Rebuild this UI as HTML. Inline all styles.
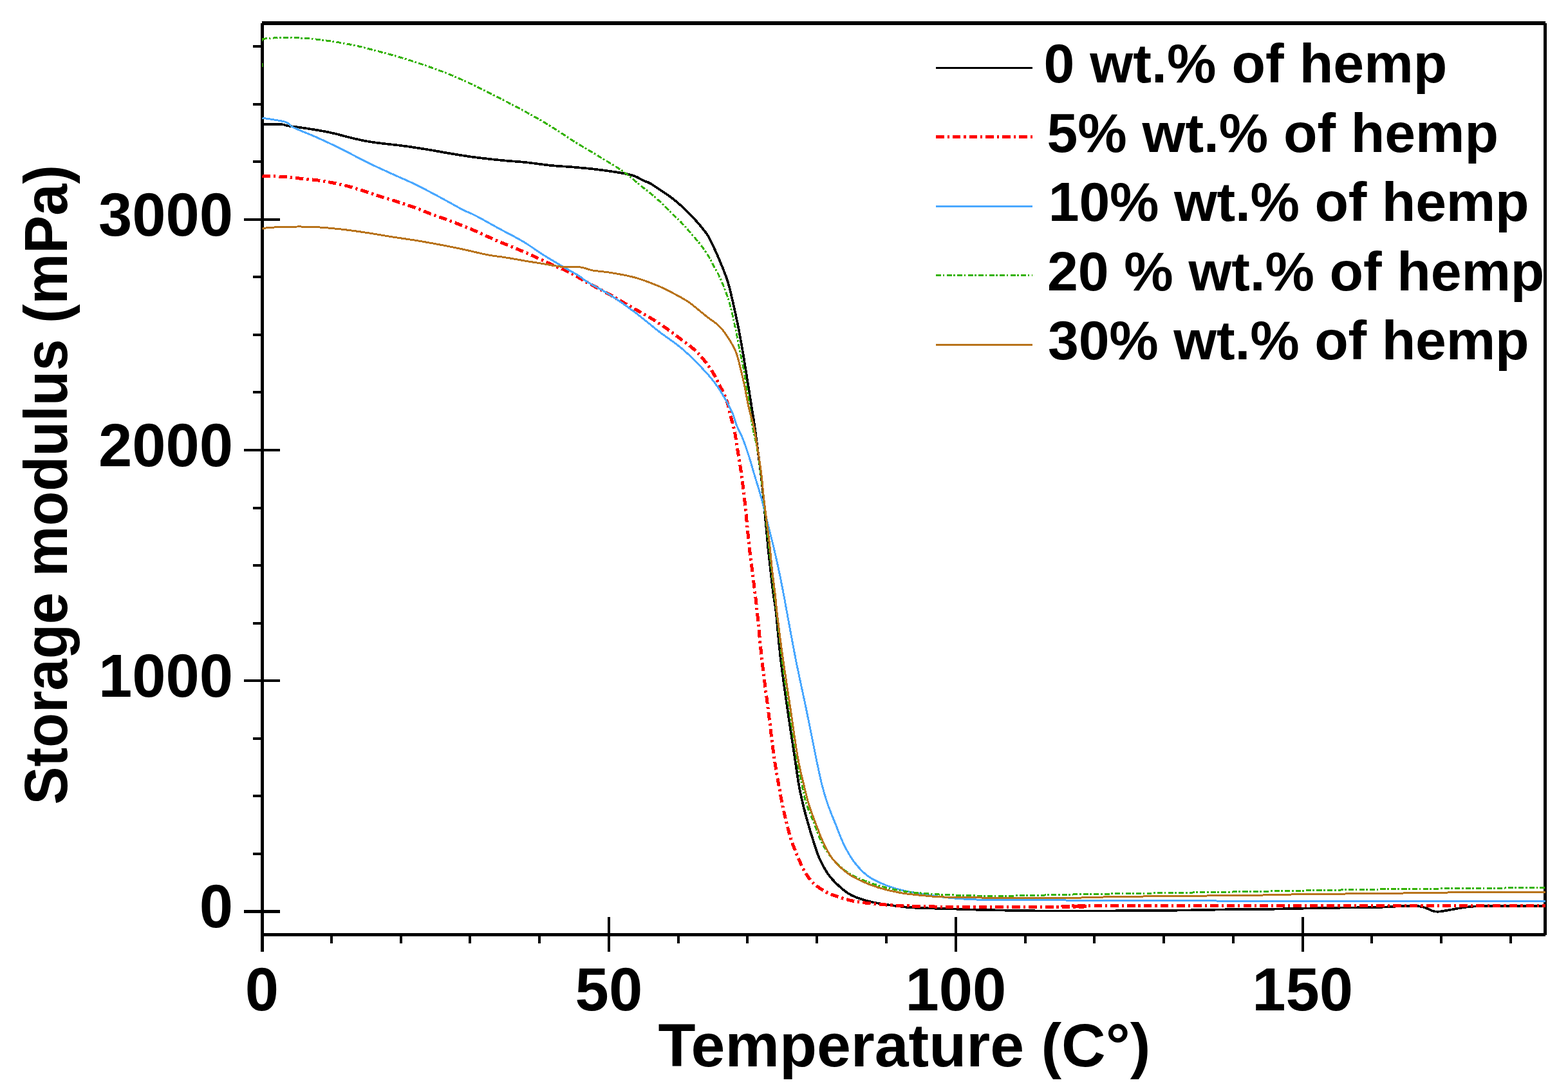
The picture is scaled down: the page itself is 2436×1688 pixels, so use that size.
<!DOCTYPE html><html><head><meta charset="utf-8"><title>Storage modulus vs Temperature</title>
<style>html,body{margin:0;padding:0;background:#fff;}svg{display:block;}text{font-family:"Liberation Sans",Arial,sans-serif;font-weight:bold;fill:#000;}</style></head><body>
<svg width="2436" height="1688" viewBox="0 0 2436 1688">
<rect width="2436" height="1688" fill="#fff"/>
<g fill="#000" shape-rendering="crispEdges">
<rect x="407" y="33" width="1994" height="6"/>
<rect x="405" y="36" width="5" height="1418"/>
<rect x="2398" y="36" width="5" height="1416"/>
<rect x="407" y="1449" width="1994" height="5"/>
<rect x="405" y="1424" width="5" height="54"/>
<rect x="513" y="1449" width="4" height="16"/>
<rect x="621" y="1449" width="4" height="16"/>
<rect x="728" y="1449" width="4" height="16"/>
<rect x="836" y="1449" width="4" height="16"/>
<rect x="944" y="1424" width="4" height="54"/>
<rect x="1052" y="1449" width="4" height="16"/>
<rect x="1159" y="1449" width="4" height="16"/>
<rect x="1267" y="1449" width="4" height="16"/>
<rect x="1375" y="1449" width="4" height="16"/>
<rect x="1483" y="1424" width="4" height="54"/>
<rect x="1591" y="1449" width="4" height="16"/>
<rect x="1698" y="1449" width="4" height="16"/>
<rect x="1806" y="1449" width="4" height="16"/>
<rect x="1914" y="1449" width="4" height="16"/>
<rect x="2022" y="1424" width="4" height="54"/>
<rect x="2129" y="1449" width="4" height="16"/>
<rect x="2237" y="1449" width="4" height="16"/>
<rect x="2345" y="1449" width="4" height="16"/>
<rect x="379" y="1413.00" width="56" height="4.6"/>
<rect x="393" y="1324" width="14" height="4"/>
<rect x="393" y="1234" width="14" height="4"/>
<rect x="393" y="1145" width="14" height="4"/>
<rect x="379" y="1054.85" width="56" height="4.6"/>
<rect x="393" y="966" width="14" height="4"/>
<rect x="393" y="876" width="14" height="4"/>
<rect x="393" y="787" width="14" height="4"/>
<rect x="379" y="696.70" width="56" height="4.6"/>
<rect x="393" y="607" width="14" height="4"/>
<rect x="393" y="518" width="14" height="4"/>
<rect x="393" y="428" width="14" height="4"/>
<rect x="379" y="338.55" width="56" height="4.6"/>
<rect x="393" y="249" width="14" height="4"/>
<rect x="393" y="160" width="14" height="4"/>
<rect x="393" y="70" width="14" height="4"/>
</g>
<defs><clipPath id="pa"><rect x="407" y="36" width="1995.5" height="1416"/></clipPath></defs>
<g clip-path="url(#pa)" fill="none" stroke-linejoin="round" shape-rendering="crispEdges">
<path d="M407.5,193.2 C412.5,193.2 431.0,192.8 437.6,193.2 C444.2,193.6 440.8,194.4 447.0,195.4 C453.2,196.4 464.0,197.5 475.0,199.2 C486.0,200.9 500.2,203.1 512.8,205.8 C525.4,208.5 539.4,212.7 550.4,215.2 C561.4,217.7 566.1,218.9 578.6,220.8 C591.1,222.7 611.5,224.5 625.6,226.4 C639.7,228.3 650.5,230.0 663.0,232.0 C675.5,234.0 688.2,236.5 700.8,238.6 C713.3,240.7 725.1,242.6 738.3,244.3 C751.5,246.0 766.8,247.7 780.0,249.0 C793.2,250.3 805.1,250.9 817.6,252.2 C830.1,253.5 842.7,255.6 855.2,256.9 C867.7,258.1 880.3,258.6 892.8,259.7 C905.3,260.8 917.9,261.9 930.4,263.5 C942.9,265.1 958.6,267.4 968.0,269.1 C977.4,270.8 981.5,271.9 986.8,273.8 C992.1,275.7 996.2,278.9 1000.0,280.7 C1003.8,282.5 1004.7,281.7 1009.4,284.4 C1014.1,287.1 1022.6,292.9 1028.2,296.7 C1033.8,300.5 1037.7,302.8 1043.2,307.0 C1048.7,311.2 1056.1,317.5 1061.1,322.0 C1066.1,326.5 1069.4,330.1 1073.3,334.2 C1077.2,338.3 1080.4,341.5 1084.6,346.5 C1088.8,351.5 1094.8,358.4 1098.7,364.3 C1102.6,370.2 1104.5,374.6 1108.1,382.2 C1111.7,389.8 1116.4,400.3 1120.3,410.0 C1124.2,419.7 1128.1,428.6 1131.5,440.2 C1134.9,451.8 1138.1,467.1 1140.9,479.6 C1143.7,492.1 1145.9,502.1 1148.4,515.3 C1150.9,528.5 1153.5,543.5 1156.0,558.6 C1158.5,573.7 1161.0,589.9 1163.5,605.6 C1166.0,621.3 1168.7,637.3 1171.0,652.6 C1173.3,667.9 1175.3,683.9 1177.1,697.6 C1178.9,711.3 1180.5,722.6 1182.0,735.0 C1183.5,747.4 1184.8,759.5 1186.0,772.0 C1187.2,784.5 1188.3,797.3 1189.5,810.0 C1190.7,822.7 1191.8,835.5 1193.0,848.0 C1194.2,860.5 1195.6,872.5 1197.0,885.0 C1198.4,897.5 1200.1,912.2 1201.5,923.0 C1202.9,933.8 1203.6,933.0 1205.5,950.0 C1207.4,967.0 1210.0,1000.1 1213.0,1025.2 C1216.0,1050.3 1219.7,1075.3 1223.3,1100.4 C1226.9,1125.5 1231.6,1155.7 1234.6,1175.6 C1237.6,1195.5 1239.1,1207.8 1241.3,1220.0 C1243.5,1232.2 1245.3,1239.6 1247.5,1249.0 C1249.7,1258.4 1252.1,1267.1 1254.7,1276.4 C1257.3,1285.7 1260.2,1295.2 1263.2,1304.6 C1266.2,1314.0 1269.0,1323.9 1273.0,1332.8 C1277.0,1341.7 1281.9,1350.9 1287.1,1358.2 C1292.3,1365.5 1298.4,1371.3 1304.1,1376.5 C1309.8,1381.7 1314.7,1385.7 1321.0,1389.2 C1327.3,1392.7 1335.0,1395.4 1342.1,1397.6 C1349.1,1399.8 1355.1,1401.1 1363.3,1402.6 C1371.5,1404.1 1382.1,1405.6 1391.5,1406.8 C1400.9,1408.0 1405.8,1408.8 1419.7,1409.6 C1433.6,1410.3 1456.2,1410.7 1475.0,1411.3 C1493.8,1411.9 1504.8,1412.5 1532.5,1413.1 C1560.2,1413.6 1593.8,1414.5 1641.0,1414.6 C1688.2,1414.7 1769.5,1414.2 1816.0,1413.8 C1862.5,1413.4 1893.0,1412.4 1920.0,1412.1 C1947.0,1411.8 1955.5,1412.0 1978.0,1411.7 C2000.5,1411.4 2028.3,1410.5 2055.0,1410.0 C2081.7,1409.5 2113.7,1409.5 2138.0,1409.0 C2162.3,1408.5 2186.0,1405.9 2201.0,1406.9 C2216.0,1407.9 2221.0,1413.9 2228.0,1415.2 C2235.0,1416.5 2233.7,1415.8 2243.0,1414.6 C2252.3,1413.4 2268.5,1409.3 2284.0,1408.0 C2299.5,1406.7 2316.5,1407.1 2336.0,1406.9 C2355.5,1406.7 2390.2,1406.7 2401.0,1406.7" stroke="#000" stroke-width="3.7"/>
<path d="M407.5,273.5 C412.5,273.6 428.5,273.9 437.6,274.4 C446.7,274.9 452.6,275.8 462.0,276.7 C471.4,277.6 484.6,278.8 494.0,280.0 C503.4,281.2 510.2,282.6 518.4,284.2 C526.5,285.8 534.4,287.5 542.9,289.8 C551.4,292.1 560.8,295.2 569.2,297.9 C577.7,300.6 585.5,303.4 593.6,306.0 C601.7,308.6 609.5,310.8 618.0,313.5 C626.5,316.2 635.6,319.2 644.4,322.4 C653.2,325.6 661.9,329.4 670.7,332.7 C679.5,336.0 688.2,338.8 697.0,342.1 C705.8,345.4 714.8,348.9 723.3,352.4 C731.8,355.8 739.6,359.2 747.7,362.8 C755.9,366.4 763.7,370.4 772.2,374.0 C780.7,377.6 789.7,380.9 798.8,384.7 C807.9,388.5 817.6,392.7 827.0,396.9 C836.4,401.1 845.8,405.8 855.2,410.0 C864.6,414.2 874.0,417.6 883.4,422.3 C892.8,427.0 900.6,432.3 911.6,438.3 C922.6,444.3 937.8,452.1 949.2,458.5 C960.6,464.9 970.6,471.0 980.0,476.4 C989.4,481.8 996.8,485.4 1005.6,490.7 C1014.4,496.0 1024.1,502.1 1032.6,508.0 C1041.1,513.9 1048.4,519.6 1056.7,526.0 C1065.0,532.4 1074.5,538.6 1082.3,546.3 C1090.1,553.9 1097.4,563.4 1103.3,571.9 C1109.2,580.4 1113.3,589.2 1117.5,597.3 C1121.7,605.4 1125.5,612.2 1128.5,620.5 C1131.5,628.8 1133.2,638.8 1135.3,647.0 C1137.4,655.2 1139.5,661.3 1141.2,669.6 C1142.9,677.9 1143.8,685.9 1145.6,696.8 C1147.3,707.7 1149.9,722.5 1151.7,735.2 C1153.5,747.9 1155.0,760.3 1156.4,772.8 C1157.8,785.3 1159.0,797.9 1160.2,810.4 C1161.5,822.9 1162.5,835.5 1163.9,848.0 C1165.3,860.5 1167.0,873.1 1168.6,885.6 C1170.2,898.1 1172.0,912.5 1173.3,923.2 C1174.6,933.9 1174.5,933.0 1176.3,950.0 C1178.0,967.0 1181.0,1000.1 1183.8,1025.2 C1186.6,1050.3 1190.1,1075.3 1193.2,1100.4 C1196.3,1125.5 1199.6,1154.7 1202.6,1175.6 C1205.6,1196.5 1208.7,1212.3 1211.0,1225.6 C1213.3,1238.9 1214.8,1246.3 1216.7,1255.2 C1218.6,1264.1 1220.2,1271.0 1222.3,1279.2 C1224.4,1287.4 1226.5,1296.1 1229.3,1304.6 C1232.1,1313.1 1235.7,1321.8 1239.2,1330.0 C1242.7,1338.2 1246.3,1346.9 1250.5,1353.9 C1254.7,1361.0 1258.7,1366.9 1264.6,1372.3 C1270.5,1377.7 1278.7,1382.8 1285.7,1386.4 C1292.8,1390.0 1299.9,1391.9 1306.9,1394.1 C1314.0,1396.3 1319.8,1398.3 1328.0,1399.8 C1336.2,1401.3 1345.6,1402.2 1356.2,1403.3 C1366.8,1404.3 1378.6,1405.4 1391.5,1406.1 C1404.4,1406.8 1419.0,1407.2 1433.8,1407.5 C1448.5,1407.8 1438.3,1408.1 1480.0,1408.2 C1521.7,1408.3 1647.3,1408.2 1684.0,1408.0 C1720.7,1407.8 1580.5,1407.1 1700.0,1406.9 C1819.5,1406.7 2284.2,1406.7 2401.0,1406.7" stroke="#ff0000" stroke-width="5" stroke-dasharray="12.5 5 3.3 5"/>
<path d="M407.5,183.2 C413.4,184.2 435.1,186.9 443.2,189.4 C451.3,191.9 447.9,194.1 456.4,198.2 C464.9,202.3 481.5,208.6 494.0,214.2 C506.5,219.8 519.1,225.8 531.6,232.0 C544.1,238.2 556.7,245.3 569.2,251.5 C581.7,257.7 594.3,263.2 606.8,269.0 C619.3,274.8 631.9,279.9 644.4,286.0 C656.9,292.1 669.5,298.8 682.0,305.5 C694.5,312.2 710.1,321.1 719.5,326.0 C728.9,330.9 728.9,329.7 738.3,334.6 C747.7,339.5 765.7,349.7 776.0,355.3 C786.3,360.9 793.1,364.2 800.0,368.0 C806.9,371.8 810.0,373.3 817.6,378.1 C825.2,382.9 836.4,390.9 845.8,396.9 C855.2,402.8 864.9,408.5 874.0,413.8 C883.1,419.1 894.0,425.0 900.3,428.9 C906.6,432.8 903.5,432.3 911.6,437.3 C919.8,442.3 936.7,450.9 949.2,458.9 C961.7,466.9 974.3,475.9 986.8,485.3 C999.3,494.7 1011.9,505.6 1024.4,515.3 C1036.9,525.0 1049.5,532.5 1062.0,543.5 C1074.5,554.5 1090.1,570.8 1099.5,581.1 C1108.9,591.5 1112.0,595.9 1118.3,605.6 C1124.6,615.3 1132.8,630.3 1137.1,639.4 C1141.4,648.5 1141.3,652.8 1144.2,660.0 C1147.1,667.2 1151.1,673.8 1154.5,682.6 C1157.9,691.4 1162.0,703.8 1164.8,712.6 C1167.6,721.4 1168.4,725.2 1171.4,735.2 C1174.4,745.2 1179.2,760.3 1182.7,772.8 C1186.2,785.3 1189.0,797.9 1192.1,810.4 C1195.2,822.9 1198.5,835.5 1201.5,848.0 C1204.5,860.5 1207.3,873.1 1210.0,885.6 C1212.7,898.1 1215.4,912.5 1217.5,923.2 C1219.6,933.9 1219.2,933.0 1222.4,950.0 C1225.6,967.0 1231.5,1000.1 1236.5,1025.2 C1241.5,1050.3 1247.2,1075.3 1252.4,1100.4 C1257.6,1125.5 1263.3,1155.7 1267.5,1175.6 C1271.7,1195.5 1274.2,1207.8 1277.3,1220.0 C1280.4,1232.2 1282.5,1238.9 1286.0,1249.0 C1289.5,1259.1 1294.2,1270.2 1298.4,1280.6 C1302.6,1291.0 1306.2,1301.7 1311.1,1311.6 C1316.0,1321.5 1321.7,1331.6 1328.0,1339.8 C1334.3,1348.0 1341.0,1355.1 1349.2,1361.0 C1357.4,1366.9 1368.0,1371.3 1377.4,1375.1 C1386.8,1378.8 1393.8,1380.9 1405.6,1383.5 C1417.3,1386.1 1435.5,1388.7 1447.9,1390.6 C1460.3,1392.5 1466.0,1393.6 1480.0,1394.8 C1494.0,1396.0 1506.5,1397.0 1532.0,1397.5 C1557.5,1398.0 1591.2,1397.7 1633.0,1397.9 C1674.8,1398.1 1730.2,1398.4 1783.0,1398.6 C1835.8,1398.8 1847.0,1399.1 1950.0,1399.2 C2053.0,1399.3 2325.8,1399.2 2401.0,1399.2" stroke="#4aa8ff" stroke-width="3"/>
<path d="M407.5,61.0 C408.2,60.8 407.0,60.4 412.0,60.0 C417.0,59.6 427.1,58.6 437.6,58.5 C448.1,58.4 462.5,58.6 475.0,59.5 C487.5,60.4 500.2,62.0 512.8,63.8 C525.4,65.6 537.9,67.7 550.4,70.4 C562.9,73.1 575.5,76.5 588.0,79.8 C600.5,83.1 613.1,86.4 625.6,90.2 C638.1,94.0 650.5,98.0 663.0,102.4 C675.5,106.8 688.2,111.3 700.8,116.5 C713.3,121.7 725.1,127.1 738.3,133.4 C751.5,139.7 766.8,147.6 780.0,154.4 C793.2,161.2 805.1,167.3 817.6,174.2 C830.1,181.1 842.7,188.1 855.2,195.8 C867.7,203.5 880.3,212.4 892.8,220.2 C905.3,228.0 917.9,235.1 930.4,242.8 C942.9,250.5 956.4,258.1 968.0,266.3 C979.6,274.5 992.3,285.9 1000.0,292.0 C1007.7,298.1 1008.9,298.8 1014.1,303.2 C1019.3,307.6 1025.5,313.1 1031.0,318.3 C1036.5,323.5 1042.0,329.2 1047.0,334.2 C1052.0,339.2 1056.4,343.3 1061.1,348.3 C1065.8,353.3 1070.5,358.8 1075.2,364.3 C1079.9,369.8 1084.9,375.4 1089.3,381.2 C1093.7,387.0 1098.5,394.3 1101.5,399.1 C1104.5,403.9 1104.3,404.7 1107.1,410.0 C1109.9,415.3 1114.2,421.7 1118.3,430.8 C1122.4,439.9 1127.7,452.7 1131.5,464.6 C1135.3,476.5 1138.1,489.7 1140.9,502.2 C1143.7,514.7 1145.9,527.3 1148.4,539.8 C1150.9,552.3 1153.5,563.3 1156.0,577.4 C1158.5,591.5 1161.3,610.3 1163.5,624.4 C1165.7,638.5 1166.9,649.8 1169.1,662.0 C1171.3,674.2 1174.3,685.4 1176.5,697.6 C1178.7,709.8 1180.4,722.6 1182.0,735.0 C1183.6,747.4 1184.6,759.5 1186.0,772.0 C1187.4,784.5 1188.9,797.3 1190.3,810.0 C1191.7,822.7 1193.1,835.5 1194.5,848.0 C1195.9,860.5 1197.1,872.5 1198.5,885.0 C1199.9,897.5 1201.7,912.2 1203.0,923.0 C1204.3,933.8 1204.5,933.0 1206.5,950.0 C1208.5,967.0 1211.8,1000.0 1215.0,1025.0 C1218.2,1050.0 1222.2,1074.9 1226.0,1100.0 C1229.8,1125.1 1234.2,1155.6 1237.5,1175.6 C1240.8,1195.6 1243.4,1207.8 1246.0,1220.0 C1248.6,1232.2 1249.8,1239.2 1253.0,1249.0 C1256.2,1258.8 1261.2,1269.3 1265.0,1279.0 C1268.8,1288.7 1271.8,1298.6 1276.0,1307.0 C1280.2,1315.4 1284.2,1322.2 1290.0,1329.5 C1295.8,1336.8 1303.8,1344.8 1311.0,1350.5 C1318.2,1356.2 1324.3,1359.5 1333.0,1363.5 C1341.7,1367.5 1352.2,1371.2 1363.0,1374.5 C1373.8,1377.8 1386.2,1380.9 1398.0,1383.0 C1409.8,1385.1 1420.1,1386.1 1433.8,1387.3 C1447.5,1388.5 1460.1,1389.2 1480.0,1389.9 C1499.9,1390.6 1520.0,1391.5 1553.0,1391.3 C1586.0,1391.1 1639.7,1389.5 1678.0,1388.8 C1716.3,1388.1 1737.7,1387.8 1783.0,1387.1 C1828.3,1386.4 1904.7,1385.2 1950.0,1384.4 C1995.3,1383.6 2020.2,1383.1 2055.0,1382.5 C2089.8,1381.9 2120.8,1381.3 2159.0,1380.8 C2197.2,1380.3 2243.7,1380.0 2284.0,1379.6 C2324.3,1379.2 2381.5,1378.5 2401.0,1378.3" stroke="#33b200" stroke-width="3" stroke-dasharray="8 2.5 2.8 3.2"/>
<path d="M407.5,355.3 C409.4,355.0 409.7,353.9 418.8,353.4 C427.9,352.8 449.5,352.1 462.0,352.0 C474.5,351.9 482.4,352.1 494.0,352.8 C505.6,353.5 519.1,354.8 531.6,356.2 C544.1,357.6 556.7,359.4 569.2,361.3 C581.7,363.2 594.3,365.5 606.8,367.5 C619.3,369.5 631.9,371.1 644.4,373.1 C656.9,375.1 669.5,377.4 682.0,379.7 C694.5,382.0 707.0,384.5 719.5,387.2 C732.0,389.9 747.0,393.7 757.1,395.7 C767.2,397.7 772.9,397.9 780.0,399.0 C787.1,400.1 793.7,401.2 800.0,402.3 C806.3,403.4 808.4,403.9 817.6,405.4 C826.8,406.9 845.8,410.0 855.2,411.5 C864.6,413.0 866.2,413.8 874.0,414.4 C881.8,415.0 894.4,414.1 902.2,415.0 C910.0,415.9 913.2,418.6 921.0,420.0 C928.8,421.4 938.2,421.6 949.2,423.5 C960.2,425.4 974.3,427.6 986.8,431.1 C999.3,434.7 1013.4,440.2 1024.4,444.8 C1035.4,449.4 1044.8,454.8 1052.6,459.0 C1060.4,463.2 1063.6,464.6 1071.4,470.2 C1079.2,475.8 1092.3,487.2 1099.5,492.8 C1106.7,498.4 1109.9,499.6 1114.6,504.0 C1119.3,508.4 1123.0,512.2 1127.7,519.1 C1132.4,526.0 1139.0,536.6 1142.8,545.4 C1146.6,554.2 1148.1,563.2 1150.3,571.7 C1152.5,580.2 1153.8,585.9 1156.0,596.2 C1158.2,606.6 1161.1,623.2 1163.5,633.8 C1165.9,644.4 1168.2,649.4 1170.5,660.0 C1172.8,670.6 1175.1,685.1 1177.1,697.6 C1179.1,710.1 1181.1,722.7 1182.7,735.2 C1184.3,747.7 1185.1,760.3 1186.5,772.8 C1187.9,785.3 1189.6,797.9 1191.2,810.4 C1192.8,822.9 1194.5,835.5 1195.9,848.0 C1197.3,860.5 1198.2,873.1 1199.6,885.6 C1201.0,898.1 1203.0,911.6 1204.3,923.2 C1205.6,934.8 1205.4,938.0 1207.5,955.0 C1209.6,972.0 1213.3,1001.0 1216.7,1025.2 C1220.1,1049.4 1224.2,1075.3 1228.0,1100.4 C1231.8,1125.5 1235.8,1155.7 1239.3,1175.6 C1242.8,1195.5 1246.2,1207.8 1249.1,1220.0 C1252.0,1232.2 1253.5,1239.1 1256.5,1249.0 C1259.5,1258.9 1263.7,1269.5 1267.4,1279.2 C1271.1,1288.9 1274.5,1298.5 1278.7,1307.4 C1282.9,1316.3 1286.9,1325.0 1292.8,1332.8 C1298.7,1340.5 1306.9,1348.3 1313.9,1353.9 C1321.0,1359.5 1326.9,1362.6 1335.1,1366.6 C1343.3,1370.6 1352.7,1374.6 1363.3,1377.9 C1373.9,1381.2 1386.8,1384.3 1398.5,1386.4 C1410.2,1388.5 1420.2,1389.4 1433.8,1390.6 C1447.4,1391.8 1446.3,1392.7 1480.0,1393.4 C1513.7,1394.1 1599.3,1395.0 1636.0,1395.0 C1672.7,1395.0 1675.5,1393.8 1700.0,1393.3 C1724.5,1392.8 1741.3,1392.4 1783.0,1391.9 C1824.7,1391.4 1909.2,1390.8 1950.0,1390.2 C1990.8,1389.7 1994.5,1389.0 2028.0,1388.6 C2061.5,1388.1 2118.7,1387.9 2151.0,1387.5 C2183.3,1387.1 2195.0,1386.6 2222.0,1386.3 C2249.0,1386.0 2283.2,1385.6 2313.0,1385.4 C2342.8,1385.2 2386.3,1385.2 2401.0,1385.2" stroke="#b8731a" stroke-width="3"/>
</g>
<rect x="407" y="98" width="1.5" height="6" fill="#33b200"/><rect x="407" y="60" width="1.5" height="4" fill="#33b200"/>
<text x="362" y="366" font-size="94" text-anchor="end">3000</text>
<text x="362" y="723.7" font-size="94" text-anchor="end">2000</text>
<text x="362" y="1082" font-size="94" text-anchor="end">1000</text>
<text x="362" y="1440" font-size="94" text-anchor="end">0</text>
<text x="407.0" y="1569" font-size="94" text-anchor="middle">0</text>
<text x="945.9" y="1569" font-size="94" text-anchor="middle">50</text>
<text x="1484.8" y="1569" font-size="94" text-anchor="middle">100</text>
<text x="2023.7" y="1569" font-size="94" text-anchor="middle">150</text>
<text x="1022.6" y="1656" font-size="95">Temperature (C°)</text>
<text transform="translate(104,1249.6) rotate(-90) scale(0.9418,1)" x="0" y="0" font-size="94">Storage modulus (mPa)</text>
<line x1="1454" y1="105.5" x2="1604" y2="105.5" stroke="#000" stroke-width="3" shape-rendering="crispEdges"/>
<text x="1621.5" y="128.0" font-size="86" textLength="626.7">0 wt.% of hemp</text>
<line x1="1454" y1="212.5" x2="1604" y2="212.5" stroke="#ff0000" stroke-width="5" stroke-dasharray="12.5 5 3.3 5" shape-rendering="crispEdges"/>
<text x="1626.6" y="235.5" font-size="86" textLength="701.4">5% wt.% of hemp</text>
<line x1="1454" y1="320.5" x2="1604" y2="320.5" stroke="#4aa8ff" stroke-width="3" shape-rendering="crispEdges"/>
<text x="1628.8" y="343.0" font-size="86" textLength="746.7">10% wt.% of hemp</text>
<line x1="1454" y1="427.5" x2="1604" y2="427.5" stroke="#33b200" stroke-width="3" stroke-dasharray="8 2.5 2.8 3.2" shape-rendering="crispEdges"/>
<text x="1627" y="450.5" font-size="86" textLength="772.4">20 % wt.% of hemp</text>
<line x1="1454" y1="535.5" x2="1604" y2="535.5" stroke="#b8731a" stroke-width="3" shape-rendering="crispEdges"/>
<text x="1628" y="558.0" font-size="86" textLength="747.5">30% wt.% of hemp</text>
</svg></body></html>
